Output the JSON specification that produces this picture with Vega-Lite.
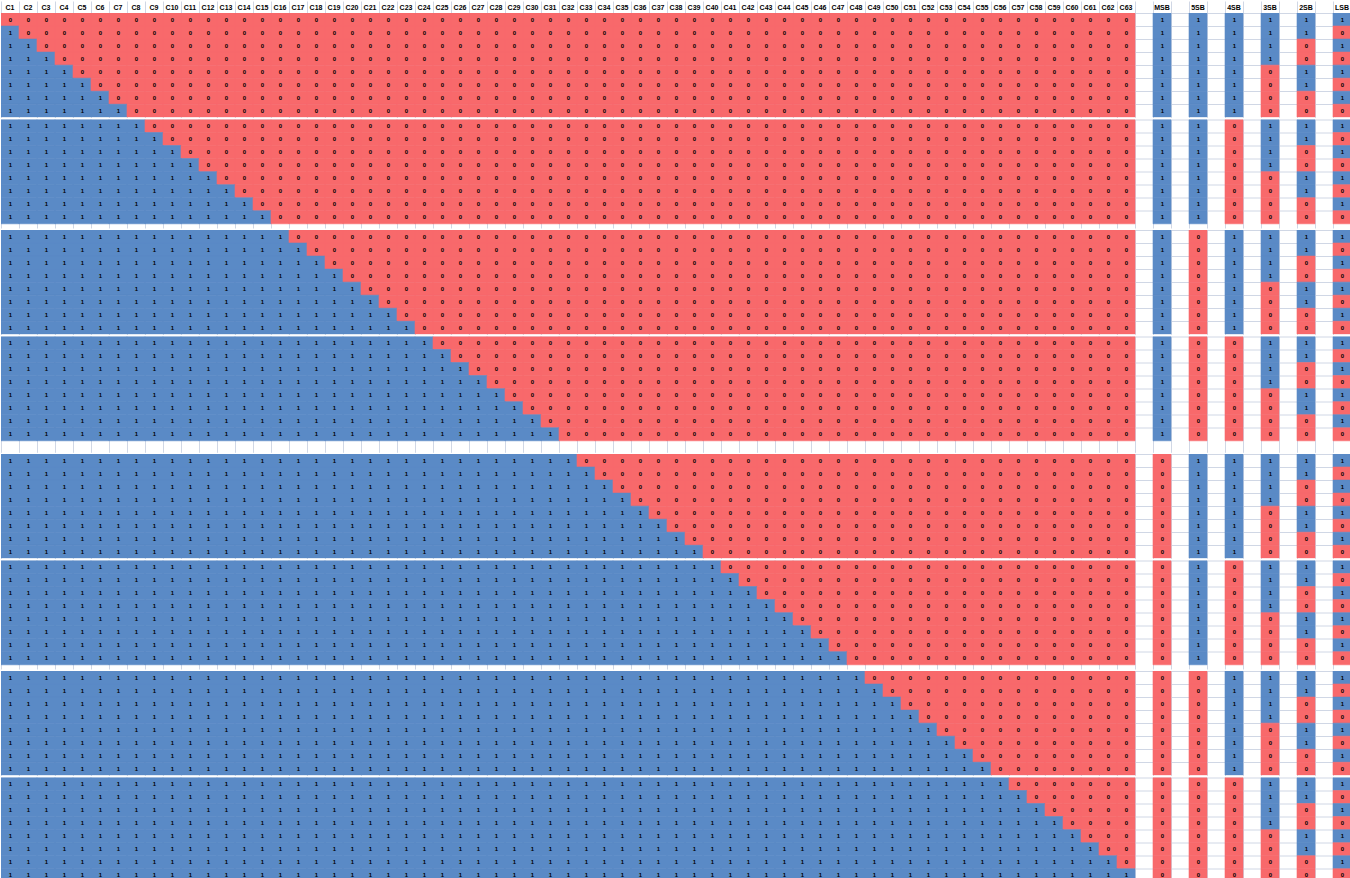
{
"$schema": "https://vega.github.io/schema/vega-lite/v6.json",
"padding": 0,
"background": "white",
"spacing": 1.5,
"config": {"view": {"stroke": null}, "axis": {"zindex": 0}},
"data": {"values": [
{"r":0,"b":[0,0,0,0,0,0,0,0, 0,0,0,0,0,0,0,0, 0,0,0,0,0,0,0,0, 0,0,0,0,0,0,0,0, 0,0,0,0,0,0,0,0, 0,0,0,0,0,0,0,0, 0,0,0,0,0,0,0,0, 0,0,0,0,0,0,0, 1,1,1,1,1,1]},
{"r":1,"b":[1,0,0,0,0,0,0,0, 0,0,0,0,0,0,0,0, 0,0,0,0,0,0,0,0, 0,0,0,0,0,0,0,0, 0,0,0,0,0,0,0,0, 0,0,0,0,0,0,0,0, 0,0,0,0,0,0,0,0, 0,0,0,0,0,0,0, 1,1,1,1,1,0]},
{"r":2,"b":[1,1,0,0,0,0,0,0, 0,0,0,0,0,0,0,0, 0,0,0,0,0,0,0,0, 0,0,0,0,0,0,0,0, 0,0,0,0,0,0,0,0, 0,0,0,0,0,0,0,0, 0,0,0,0,0,0,0,0, 0,0,0,0,0,0,0, 1,1,1,1,0,1]},
{"r":3,"b":[1,1,1,0,0,0,0,0, 0,0,0,0,0,0,0,0, 0,0,0,0,0,0,0,0, 0,0,0,0,0,0,0,0, 0,0,0,0,0,0,0,0, 0,0,0,0,0,0,0,0, 0,0,0,0,0,0,0,0, 0,0,0,0,0,0,0, 1,1,1,1,0,0]},
{"r":4,"b":[1,1,1,1,0,0,0,0, 0,0,0,0,0,0,0,0, 0,0,0,0,0,0,0,0, 0,0,0,0,0,0,0,0, 0,0,0,0,0,0,0,0, 0,0,0,0,0,0,0,0, 0,0,0,0,0,0,0,0, 0,0,0,0,0,0,0, 1,1,1,0,1,1]},
{"r":5,"b":[1,1,1,1,1,0,0,0, 0,0,0,0,0,0,0,0, 0,0,0,0,0,0,0,0, 0,0,0,0,0,0,0,0, 0,0,0,0,0,0,0,0, 0,0,0,0,0,0,0,0, 0,0,0,0,0,0,0,0, 0,0,0,0,0,0,0, 1,1,1,0,1,0]},
{"r":6,"b":[1,1,1,1,1,1,0,0, 0,0,0,0,0,0,0,0, 0,0,0,0,0,0,0,0, 0,0,0,0,0,0,0,0, 0,0,0,0,0,0,0,0, 0,0,0,0,0,0,0,0, 0,0,0,0,0,0,0,0, 0,0,0,0,0,0,0, 1,1,1,0,0,1]},
{"r":7,"b":[1,1,1,1,1,1,1,0, 0,0,0,0,0,0,0,0, 0,0,0,0,0,0,0,0, 0,0,0,0,0,0,0,0, 0,0,0,0,0,0,0,0, 0,0,0,0,0,0,0,0, 0,0,0,0,0,0,0,0, 0,0,0,0,0,0,0, 1,1,1,0,0,0]},
{"r":8,"b":[1,1,1,1,1,1,1,1, 0,0,0,0,0,0,0,0, 0,0,0,0,0,0,0,0, 0,0,0,0,0,0,0,0, 0,0,0,0,0,0,0,0, 0,0,0,0,0,0,0,0, 0,0,0,0,0,0,0,0, 0,0,0,0,0,0,0, 1,1,0,1,1,1]},
{"r":9,"b":[1,1,1,1,1,1,1,1, 1,0,0,0,0,0,0,0, 0,0,0,0,0,0,0,0, 0,0,0,0,0,0,0,0, 0,0,0,0,0,0,0,0, 0,0,0,0,0,0,0,0, 0,0,0,0,0,0,0,0, 0,0,0,0,0,0,0, 1,1,0,1,1,0]},
{"r":10,"b":[1,1,1,1,1,1,1,1, 1,1,0,0,0,0,0,0, 0,0,0,0,0,0,0,0, 0,0,0,0,0,0,0,0, 0,0,0,0,0,0,0,0, 0,0,0,0,0,0,0,0, 0,0,0,0,0,0,0,0, 0,0,0,0,0,0,0, 1,1,0,1,0,1]},
{"r":11,"b":[1,1,1,1,1,1,1,1, 1,1,1,0,0,0,0,0, 0,0,0,0,0,0,0,0, 0,0,0,0,0,0,0,0, 0,0,0,0,0,0,0,0, 0,0,0,0,0,0,0,0, 0,0,0,0,0,0,0,0, 0,0,0,0,0,0,0, 1,1,0,1,0,0]},
{"r":12,"b":[1,1,1,1,1,1,1,1, 1,1,1,1,0,0,0,0, 0,0,0,0,0,0,0,0, 0,0,0,0,0,0,0,0, 0,0,0,0,0,0,0,0, 0,0,0,0,0,0,0,0, 0,0,0,0,0,0,0,0, 0,0,0,0,0,0,0, 1,1,0,0,1,1]},
{"r":13,"b":[1,1,1,1,1,1,1,1, 1,1,1,1,1,0,0,0, 0,0,0,0,0,0,0,0, 0,0,0,0,0,0,0,0, 0,0,0,0,0,0,0,0, 0,0,0,0,0,0,0,0, 0,0,0,0,0,0,0,0, 0,0,0,0,0,0,0, 1,1,0,0,1,0]},
{"r":14,"b":[1,1,1,1,1,1,1,1, 1,1,1,1,1,1,0,0, 0,0,0,0,0,0,0,0, 0,0,0,0,0,0,0,0, 0,0,0,0,0,0,0,0, 0,0,0,0,0,0,0,0, 0,0,0,0,0,0,0,0, 0,0,0,0,0,0,0, 1,1,0,0,0,1]},
{"r":15,"b":[1,1,1,1,1,1,1,1, 1,1,1,1,1,1,1,0, 0,0,0,0,0,0,0,0, 0,0,0,0,0,0,0,0, 0,0,0,0,0,0,0,0, 0,0,0,0,0,0,0,0, 0,0,0,0,0,0,0,0, 0,0,0,0,0,0,0, 1,1,0,0,0,0]},
{"r":16,"b":[1,1,1,1,1,1,1,1, 1,1,1,1,1,1,1,1, 0,0,0,0,0,0,0,0, 0,0,0,0,0,0,0,0, 0,0,0,0,0,0,0,0, 0,0,0,0,0,0,0,0, 0,0,0,0,0,0,0,0, 0,0,0,0,0,0,0, 1,0,1,1,1,1]},
{"r":17,"b":[1,1,1,1,1,1,1,1, 1,1,1,1,1,1,1,1, 1,0,0,0,0,0,0,0, 0,0,0,0,0,0,0,0, 0,0,0,0,0,0,0,0, 0,0,0,0,0,0,0,0, 0,0,0,0,0,0,0,0, 0,0,0,0,0,0,0, 1,0,1,1,1,0]},
{"r":18,"b":[1,1,1,1,1,1,1,1, 1,1,1,1,1,1,1,1, 1,1,0,0,0,0,0,0, 0,0,0,0,0,0,0,0, 0,0,0,0,0,0,0,0, 0,0,0,0,0,0,0,0, 0,0,0,0,0,0,0,0, 0,0,0,0,0,0,0, 1,0,1,1,0,1]},
{"r":19,"b":[1,1,1,1,1,1,1,1, 1,1,1,1,1,1,1,1, 1,1,1,0,0,0,0,0, 0,0,0,0,0,0,0,0, 0,0,0,0,0,0,0,0, 0,0,0,0,0,0,0,0, 0,0,0,0,0,0,0,0, 0,0,0,0,0,0,0, 1,0,1,1,0,0]},
{"r":20,"b":[1,1,1,1,1,1,1,1, 1,1,1,1,1,1,1,1, 1,1,1,1,0,0,0,0, 0,0,0,0,0,0,0,0, 0,0,0,0,0,0,0,0, 0,0,0,0,0,0,0,0, 0,0,0,0,0,0,0,0, 0,0,0,0,0,0,0, 1,0,1,0,1,1]},
{"r":21,"b":[1,1,1,1,1,1,1,1, 1,1,1,1,1,1,1,1, 1,1,1,1,1,0,0,0, 0,0,0,0,0,0,0,0, 0,0,0,0,0,0,0,0, 0,0,0,0,0,0,0,0, 0,0,0,0,0,0,0,0, 0,0,0,0,0,0,0, 1,0,1,0,1,0]},
{"r":22,"b":[1,1,1,1,1,1,1,1, 1,1,1,1,1,1,1,1, 1,1,1,1,1,1,0,0, 0,0,0,0,0,0,0,0, 0,0,0,0,0,0,0,0, 0,0,0,0,0,0,0,0, 0,0,0,0,0,0,0,0, 0,0,0,0,0,0,0, 1,0,1,0,0,1]},
{"r":23,"b":[1,1,1,1,1,1,1,1, 1,1,1,1,1,1,1,1, 1,1,1,1,1,1,1,0, 0,0,0,0,0,0,0,0, 0,0,0,0,0,0,0,0, 0,0,0,0,0,0,0,0, 0,0,0,0,0,0,0,0, 0,0,0,0,0,0,0, 1,0,1,0,0,0]},
{"r":24,"b":[1,1,1,1,1,1,1,1, 1,1,1,1,1,1,1,1, 1,1,1,1,1,1,1,1, 0,0,0,0,0,0,0,0, 0,0,0,0,0,0,0,0, 0,0,0,0,0,0,0,0, 0,0,0,0,0,0,0,0, 0,0,0,0,0,0,0, 1,0,0,1,1,1]},
{"r":25,"b":[1,1,1,1,1,1,1,1, 1,1,1,1,1,1,1,1, 1,1,1,1,1,1,1,1, 1,0,0,0,0,0,0,0, 0,0,0,0,0,0,0,0, 0,0,0,0,0,0,0,0, 0,0,0,0,0,0,0,0, 0,0,0,0,0,0,0, 1,0,0,1,1,0]},
{"r":26,"b":[1,1,1,1,1,1,1,1, 1,1,1,1,1,1,1,1, 1,1,1,1,1,1,1,1, 1,1,0,0,0,0,0,0, 0,0,0,0,0,0,0,0, 0,0,0,0,0,0,0,0, 0,0,0,0,0,0,0,0, 0,0,0,0,0,0,0, 1,0,0,1,0,1]},
{"r":27,"b":[1,1,1,1,1,1,1,1, 1,1,1,1,1,1,1,1, 1,1,1,1,1,1,1,1, 1,1,1,0,0,0,0,0, 0,0,0,0,0,0,0,0, 0,0,0,0,0,0,0,0, 0,0,0,0,0,0,0,0, 0,0,0,0,0,0,0, 1,0,0,1,0,0]},
{"r":28,"b":[1,1,1,1,1,1,1,1, 1,1,1,1,1,1,1,1, 1,1,1,1,1,1,1,1, 1,1,1,1,0,0,0,0, 0,0,0,0,0,0,0,0, 0,0,0,0,0,0,0,0, 0,0,0,0,0,0,0,0, 0,0,0,0,0,0,0, 1,0,0,0,1,1]},
{"r":29,"b":[1,1,1,1,1,1,1,1, 1,1,1,1,1,1,1,1, 1,1,1,1,1,1,1,1, 1,1,1,1,1,0,0,0, 0,0,0,0,0,0,0,0, 0,0,0,0,0,0,0,0, 0,0,0,0,0,0,0,0, 0,0,0,0,0,0,0, 1,0,0,0,1,0]},
{"r":30,"b":[1,1,1,1,1,1,1,1, 1,1,1,1,1,1,1,1, 1,1,1,1,1,1,1,1, 1,1,1,1,1,1,0,0, 0,0,0,0,0,0,0,0, 0,0,0,0,0,0,0,0, 0,0,0,0,0,0,0,0, 0,0,0,0,0,0,0, 1,0,0,0,0,1]},
{"r":31,"b":[1,1,1,1,1,1,1,1, 1,1,1,1,1,1,1,1, 1,1,1,1,1,1,1,1, 1,1,1,1,1,1,1,0, 0,0,0,0,0,0,0,0, 0,0,0,0,0,0,0,0, 0,0,0,0,0,0,0,0, 0,0,0,0,0,0,0, 1,0,0,0,0,0]},
{"r":32,"b":[1,1,1,1,1,1,1,1, 1,1,1,1,1,1,1,1, 1,1,1,1,1,1,1,1, 1,1,1,1,1,1,1,1, 0,0,0,0,0,0,0,0, 0,0,0,0,0,0,0,0, 0,0,0,0,0,0,0,0, 0,0,0,0,0,0,0, 0,1,1,1,1,1]},
{"r":33,"b":[1,1,1,1,1,1,1,1, 1,1,1,1,1,1,1,1, 1,1,1,1,1,1,1,1, 1,1,1,1,1,1,1,1, 1,0,0,0,0,0,0,0, 0,0,0,0,0,0,0,0, 0,0,0,0,0,0,0,0, 0,0,0,0,0,0,0, 0,1,1,1,1,0]},
{"r":34,"b":[1,1,1,1,1,1,1,1, 1,1,1,1,1,1,1,1, 1,1,1,1,1,1,1,1, 1,1,1,1,1,1,1,1, 1,1,0,0,0,0,0,0, 0,0,0,0,0,0,0,0, 0,0,0,0,0,0,0,0, 0,0,0,0,0,0,0, 0,1,1,1,0,1]},
{"r":35,"b":[1,1,1,1,1,1,1,1, 1,1,1,1,1,1,1,1, 1,1,1,1,1,1,1,1, 1,1,1,1,1,1,1,1, 1,1,1,0,0,0,0,0, 0,0,0,0,0,0,0,0, 0,0,0,0,0,0,0,0, 0,0,0,0,0,0,0, 0,1,1,1,0,0]},
{"r":36,"b":[1,1,1,1,1,1,1,1, 1,1,1,1,1,1,1,1, 1,1,1,1,1,1,1,1, 1,1,1,1,1,1,1,1, 1,1,1,1,0,0,0,0, 0,0,0,0,0,0,0,0, 0,0,0,0,0,0,0,0, 0,0,0,0,0,0,0, 0,1,1,0,1,1]},
{"r":37,"b":[1,1,1,1,1,1,1,1, 1,1,1,1,1,1,1,1, 1,1,1,1,1,1,1,1, 1,1,1,1,1,1,1,1, 1,1,1,1,1,0,0,0, 0,0,0,0,0,0,0,0, 0,0,0,0,0,0,0,0, 0,0,0,0,0,0,0, 0,1,1,0,1,0]},
{"r":38,"b":[1,1,1,1,1,1,1,1, 1,1,1,1,1,1,1,1, 1,1,1,1,1,1,1,1, 1,1,1,1,1,1,1,1, 1,1,1,1,1,1,0,0, 0,0,0,0,0,0,0,0, 0,0,0,0,0,0,0,0, 0,0,0,0,0,0,0, 0,1,1,0,0,1]},
{"r":39,"b":[1,1,1,1,1,1,1,1, 1,1,1,1,1,1,1,1, 1,1,1,1,1,1,1,1, 1,1,1,1,1,1,1,1, 1,1,1,1,1,1,1,0, 0,0,0,0,0,0,0,0, 0,0,0,0,0,0,0,0, 0,0,0,0,0,0,0, 0,1,1,0,0,0]},
{"r":40,"b":[1,1,1,1,1,1,1,1, 1,1,1,1,1,1,1,1, 1,1,1,1,1,1,1,1, 1,1,1,1,1,1,1,1, 1,1,1,1,1,1,1,1, 0,0,0,0,0,0,0,0, 0,0,0,0,0,0,0,0, 0,0,0,0,0,0,0, 0,1,0,1,1,1]},
{"r":41,"b":[1,1,1,1,1,1,1,1, 1,1,1,1,1,1,1,1, 1,1,1,1,1,1,1,1, 1,1,1,1,1,1,1,1, 1,1,1,1,1,1,1,1, 1,0,0,0,0,0,0,0, 0,0,0,0,0,0,0,0, 0,0,0,0,0,0,0, 0,1,0,1,1,0]},
{"r":42,"b":[1,1,1,1,1,1,1,1, 1,1,1,1,1,1,1,1, 1,1,1,1,1,1,1,1, 1,1,1,1,1,1,1,1, 1,1,1,1,1,1,1,1, 1,1,0,0,0,0,0,0, 0,0,0,0,0,0,0,0, 0,0,0,0,0,0,0, 0,1,0,1,0,1]},
{"r":43,"b":[1,1,1,1,1,1,1,1, 1,1,1,1,1,1,1,1, 1,1,1,1,1,1,1,1, 1,1,1,1,1,1,1,1, 1,1,1,1,1,1,1,1, 1,1,1,0,0,0,0,0, 0,0,0,0,0,0,0,0, 0,0,0,0,0,0,0, 0,1,0,1,0,0]},
{"r":44,"b":[1,1,1,1,1,1,1,1, 1,1,1,1,1,1,1,1, 1,1,1,1,1,1,1,1, 1,1,1,1,1,1,1,1, 1,1,1,1,1,1,1,1, 1,1,1,1,0,0,0,0, 0,0,0,0,0,0,0,0, 0,0,0,0,0,0,0, 0,1,0,0,1,1]},
{"r":45,"b":[1,1,1,1,1,1,1,1, 1,1,1,1,1,1,1,1, 1,1,1,1,1,1,1,1, 1,1,1,1,1,1,1,1, 1,1,1,1,1,1,1,1, 1,1,1,1,1,0,0,0, 0,0,0,0,0,0,0,0, 0,0,0,0,0,0,0, 0,1,0,0,1,0]},
{"r":46,"b":[1,1,1,1,1,1,1,1, 1,1,1,1,1,1,1,1, 1,1,1,1,1,1,1,1, 1,1,1,1,1,1,1,1, 1,1,1,1,1,1,1,1, 1,1,1,1,1,1,0,0, 0,0,0,0,0,0,0,0, 0,0,0,0,0,0,0, 0,1,0,0,0,1]},
{"r":47,"b":[1,1,1,1,1,1,1,1, 1,1,1,1,1,1,1,1, 1,1,1,1,1,1,1,1, 1,1,1,1,1,1,1,1, 1,1,1,1,1,1,1,1, 1,1,1,1,1,1,1,0, 0,0,0,0,0,0,0,0, 0,0,0,0,0,0,0, 0,1,0,0,0,0]},
{"r":48,"b":[1,1,1,1,1,1,1,1, 1,1,1,1,1,1,1,1, 1,1,1,1,1,1,1,1, 1,1,1,1,1,1,1,1, 1,1,1,1,1,1,1,1, 1,1,1,1,1,1,1,1, 0,0,0,0,0,0,0,0, 0,0,0,0,0,0,0, 0,0,1,1,1,1]},
{"r":49,"b":[1,1,1,1,1,1,1,1, 1,1,1,1,1,1,1,1, 1,1,1,1,1,1,1,1, 1,1,1,1,1,1,1,1, 1,1,1,1,1,1,1,1, 1,1,1,1,1,1,1,1, 1,0,0,0,0,0,0,0, 0,0,0,0,0,0,0, 0,0,1,1,1,0]},
{"r":50,"b":[1,1,1,1,1,1,1,1, 1,1,1,1,1,1,1,1, 1,1,1,1,1,1,1,1, 1,1,1,1,1,1,1,1, 1,1,1,1,1,1,1,1, 1,1,1,1,1,1,1,1, 1,1,0,0,0,0,0,0, 0,0,0,0,0,0,0, 0,0,1,1,0,1]},
{"r":51,"b":[1,1,1,1,1,1,1,1, 1,1,1,1,1,1,1,1, 1,1,1,1,1,1,1,1, 1,1,1,1,1,1,1,1, 1,1,1,1,1,1,1,1, 1,1,1,1,1,1,1,1, 1,1,1,0,0,0,0,0, 0,0,0,0,0,0,0, 0,0,1,1,0,0]},
{"r":52,"b":[1,1,1,1,1,1,1,1, 1,1,1,1,1,1,1,1, 1,1,1,1,1,1,1,1, 1,1,1,1,1,1,1,1, 1,1,1,1,1,1,1,1, 1,1,1,1,1,1,1,1, 1,1,1,1,0,0,0,0, 0,0,0,0,0,0,0, 0,0,1,0,1,1]},
{"r":53,"b":[1,1,1,1,1,1,1,1, 1,1,1,1,1,1,1,1, 1,1,1,1,1,1,1,1, 1,1,1,1,1,1,1,1, 1,1,1,1,1,1,1,1, 1,1,1,1,1,1,1,1, 1,1,1,1,1,0,0,0, 0,0,0,0,0,0,0, 0,0,1,0,1,0]},
{"r":54,"b":[1,1,1,1,1,1,1,1, 1,1,1,1,1,1,1,1, 1,1,1,1,1,1,1,1, 1,1,1,1,1,1,1,1, 1,1,1,1,1,1,1,1, 1,1,1,1,1,1,1,1, 1,1,1,1,1,1,0,0, 0,0,0,0,0,0,0, 0,0,1,0,0,1]},
{"r":55,"b":[1,1,1,1,1,1,1,1, 1,1,1,1,1,1,1,1, 1,1,1,1,1,1,1,1, 1,1,1,1,1,1,1,1, 1,1,1,1,1,1,1,1, 1,1,1,1,1,1,1,1, 1,1,1,1,1,1,1,0, 0,0,0,0,0,0,0, 0,0,1,0,0,0]},
{"r":56,"b":[1,1,1,1,1,1,1,1, 1,1,1,1,1,1,1,1, 1,1,1,1,1,1,1,1, 1,1,1,1,1,1,1,1, 1,1,1,1,1,1,1,1, 1,1,1,1,1,1,1,1, 1,1,1,1,1,1,1,1, 0,0,0,0,0,0,0, 0,0,0,1,1,1]},
{"r":57,"b":[1,1,1,1,1,1,1,1, 1,1,1,1,1,1,1,1, 1,1,1,1,1,1,1,1, 1,1,1,1,1,1,1,1, 1,1,1,1,1,1,1,1, 1,1,1,1,1,1,1,1, 1,1,1,1,1,1,1,1, 1,0,0,0,0,0,0, 0,0,0,1,1,0]},
{"r":58,"b":[1,1,1,1,1,1,1,1, 1,1,1,1,1,1,1,1, 1,1,1,1,1,1,1,1, 1,1,1,1,1,1,1,1, 1,1,1,1,1,1,1,1, 1,1,1,1,1,1,1,1, 1,1,1,1,1,1,1,1, 1,1,0,0,0,0,0, 0,0,0,1,0,1]},
{"r":59,"b":[1,1,1,1,1,1,1,1, 1,1,1,1,1,1,1,1, 1,1,1,1,1,1,1,1, 1,1,1,1,1,1,1,1, 1,1,1,1,1,1,1,1, 1,1,1,1,1,1,1,1, 1,1,1,1,1,1,1,1, 1,1,1,0,0,0,0, 0,0,0,1,0,0]},
{"r":60,"b":[1,1,1,1,1,1,1,1, 1,1,1,1,1,1,1,1, 1,1,1,1,1,1,1,1, 1,1,1,1,1,1,1,1, 1,1,1,1,1,1,1,1, 1,1,1,1,1,1,1,1, 1,1,1,1,1,1,1,1, 1,1,1,1,0,0,0, 0,0,0,0,1,1]},
{"r":61,"b":[1,1,1,1,1,1,1,1, 1,1,1,1,1,1,1,1, 1,1,1,1,1,1,1,1, 1,1,1,1,1,1,1,1, 1,1,1,1,1,1,1,1, 1,1,1,1,1,1,1,1, 1,1,1,1,1,1,1,1, 1,1,1,1,1,0,0, 0,0,0,0,1,0]},
{"r":62,"b":[1,1,1,1,1,1,1,1, 1,1,1,1,1,1,1,1, 1,1,1,1,1,1,1,1, 1,1,1,1,1,1,1,1, 1,1,1,1,1,1,1,1, 1,1,1,1,1,1,1,1, 1,1,1,1,1,1,1,1, 1,1,1,1,1,1,0, 0,0,0,0,0,1]},
{"r":63,"b":[1,1,1,1,1,1,1,1, 1,1,1,1,1,1,1,1, 1,1,1,1,1,1,1,1, 1,1,1,1,1,1,1,1, 1,1,1,1,1,1,1,1, 1,1,1,1,1,1,1,1, 1,1,1,1,1,1,1,1, 1,1,1,1,1,1,1, 0,0,0,0,0,0]}
]},
"transform": [
  {"flatten": ["b"], "as": ["v"]},
  {"window": [{"op": "row_number", "as": "k"}], "groupby": ["r"]}
],
"resolve": {"scale": {"x": "independent", "y": "independent"}},
"vconcat": [
{"width": 1350, "height": 104.3,
 "transform": [{"filter": "datum.r >= 0 && datum.r <= 7"}],
 "encoding": {
  "x": {"field": "k", "type": "ordinal", "scale": {"domain": [1,2,3,4,5,6,7,8,9,10,11,12,13,14,15,16,17,18,19,20,21,22,23,24,25,26,27,28,29,30,31,32,33,34,35,36,37,38,39,40,41,42,43,44,45,46,47,48,49,50,51,52,53,54,55,56,57,58,59,60,61,62,63,101,64,102,65,103,66,104,67,105,68,106,69], "paddingInner": 0, "paddingOuter": 0},
   "axis": {"orient": "top", "zindex": 0, "title": null, "bandPosition": 0, "labelOffset": 0, "tickSize": 12, "tickColor": "#d0d7e5", "domain": false, "grid": true, "gridColor": "#d0d7e5", "labelFont": "Liberation Sans", "labelFontSize": 7, "labelFontWeight": "bold", "labelColor": "black", "labelPadding": -9.5, "labelAngle": 0, "labelOverlap": false, "labelBound": false, "labelFlush": false, "minExtent": 12, "maxExtent": 12,
    "labelExpr": "datum.value > 100 ? '' : datum.value <= 63 ? 'C' + datum.value : datum.value == 64 ? 'MSB' : datum.value == 65 ? '5SB' : datum.value == 66 ? '4SB' : datum.value == 67 ? '3SB' : datum.value == 68 ? '2SB' : 'LSB'"}},
  "y": {"field": "r", "type": "ordinal", "scale": {"domain": [0,1,2,3,4,5,6,7], "paddingInner": 0, "paddingOuter": 0},
   "axis": {"zindex": 0, "title": null, "labels": false, "ticks": false, "domain": false, "grid": true, "gridColor": "#d0d7e5", "bandPosition": 0, "minExtent": 0, "maxExtent": 0}}
 },
 "layer": [
  {"mark": {"type": "rect", "strokeWidth": 0.6, "clip": true}, "encoding": {"color": {"field": "v", "type": "nominal", "scale": {"domain": [0,1], "range": ["#F8696B","#5A8AC6"]}, "legend": null}, "stroke": {"field": "v", "type": "nominal", "scale": {"domain": [0,1], "range": ["#F8696B","#5A8AC6"]}, "legend": null}}},
  {"mark": {"type": "text", "font": "Liberation Sans", "fontSize": 6, "fontWeight": "bold", "color": "black", "dx": 0.5}, "encoding": {"text": {"field": "v"}}}
 ]},
{"width": 1350, "height": 108.5,
 "transform": [{"filter": "datum.r >= 8 && datum.r <= 15"}],
 "encoding": {
  "x": {"field": "k", "type": "ordinal", "scale": {"domain": [1,2,3,4,5,6,7,8,9,10,11,12,13,14,15,16,17,18,19,20,21,22,23,24,25,26,27,28,29,30,31,32,33,34,35,36,37,38,39,40,41,42,43,44,45,46,47,48,49,50,51,52,53,54,55,56,57,58,59,60,61,62,63,101,64,102,65,103,66,104,67,105,68,106,69], "paddingInner": 0, "paddingOuter": 0},
   "axis": {"orient": "top", "zindex": 0, "title": null, "labels": false, "ticks": false, "domain": false, "grid": true, "gridColor": "#d0d7e5", "bandPosition": 0, "minExtent": 0, "maxExtent": 0}},
  "y": {"field": "r", "type": "ordinal", "scale": {"domain": [8,9,10,11,12,13,14,15], "paddingInner": 0, "paddingOuter": 0.161, "align": 0},
   "axis": {"zindex": 0, "title": null, "labels": false, "ticks": false, "domain": false, "grid": true, "gridColor": "#d0d7e5", "bandPosition": 0, "minExtent": 0, "maxExtent": 0}}
 },
 "layer": [
  {"mark": {"type": "rect", "strokeWidth": 0.6, "clip": true}, "encoding": {"color": {"field": "v", "type": "nominal", "scale": {"domain": [0,1], "range": ["#F8696B","#5A8AC6"]}, "legend": null}, "stroke": {"field": "v", "type": "nominal", "scale": {"domain": [0,1], "range": ["#F8696B","#5A8AC6"]}, "legend": null}}},
  {"mark": {"type": "text", "font": "Liberation Sans", "fontSize": 6, "fontWeight": "bold", "color": "black", "dx": 0.5}, "encoding": {"text": {"field": "v"}}}
 ]},
{"width": 1350, "height": 104.3,
 "transform": [{"filter": "datum.r >= 16 && datum.r <= 23"}],
 "encoding": {
  "x": {"field": "k", "type": "ordinal", "scale": {"domain": [1,2,3,4,5,6,7,8,9,10,11,12,13,14,15,16,17,18,19,20,21,22,23,24,25,26,27,28,29,30,31,32,33,34,35,36,37,38,39,40,41,42,43,44,45,46,47,48,49,50,51,52,53,54,55,56,57,58,59,60,61,62,63,101,64,102,65,103,66,104,67,105,68,106,69], "paddingInner": 0, "paddingOuter": 0},
   "axis": {"orient": "top", "zindex": 0, "title": null, "labels": false, "ticks": false, "domain": false, "grid": true, "gridColor": "#d0d7e5", "bandPosition": 0, "minExtent": 0, "maxExtent": 0}},
  "y": {"field": "r", "type": "ordinal", "scale": {"domain": [16,17,18,19,20,21,22,23], "paddingInner": 0, "paddingOuter": 0},
   "axis": {"zindex": 0, "title": null, "labels": false, "ticks": false, "domain": false, "grid": true, "gridColor": "#d0d7e5", "bandPosition": 0, "minExtent": 0, "maxExtent": 0}}
 },
 "layer": [
  {"mark": {"type": "rect", "strokeWidth": 0.6, "clip": true}, "encoding": {"color": {"field": "v", "type": "nominal", "scale": {"domain": [0,1], "range": ["#F8696B","#5A8AC6"]}, "legend": null}, "stroke": {"field": "v", "type": "nominal", "scale": {"domain": [0,1], "range": ["#F8696B","#5A8AC6"]}, "legend": null}}},
  {"mark": {"type": "text", "font": "Liberation Sans", "fontSize": 6, "fontWeight": "bold", "color": "black", "dx": 0.5}, "encoding": {"text": {"field": "v"}}}
 ]},
{"width": 1350, "height": 115.8,
 "transform": [{"filter": "datum.r >= 24 && datum.r <= 31"}],
 "encoding": {
  "x": {"field": "k", "type": "ordinal", "scale": {"domain": [1,2,3,4,5,6,7,8,9,10,11,12,13,14,15,16,17,18,19,20,21,22,23,24,25,26,27,28,29,30,31,32,33,34,35,36,37,38,39,40,41,42,43,44,45,46,47,48,49,50,51,52,53,54,55,56,57,58,59,60,61,62,63,101,64,102,65,103,66,104,67,105,68,106,69], "paddingInner": 0, "paddingOuter": 0},
   "axis": {"orient": "top", "zindex": 0, "title": null, "labels": false, "ticks": false, "domain": false, "grid": true, "gridColor": "#d0d7e5", "bandPosition": 0, "minExtent": 0, "maxExtent": 0}},
  "y": {"field": "r", "type": "ordinal", "scale": {"domain": [24,25,26,27,28,29,30,31], "paddingInner": 0, "paddingOuter": 0.441, "align": 0},
   "axis": {"zindex": 0, "title": null, "labels": false, "ticks": false, "domain": false, "grid": true, "gridColor": "#d0d7e5", "bandPosition": 0, "minExtent": 0, "maxExtent": 0}}
 },
 "layer": [
  {"mark": {"type": "rect", "strokeWidth": 0.6, "clip": true}, "encoding": {"color": {"field": "v", "type": "nominal", "scale": {"domain": [0,1], "range": ["#F8696B","#5A8AC6"]}, "legend": null}, "stroke": {"field": "v", "type": "nominal", "scale": {"domain": [0,1], "range": ["#F8696B","#5A8AC6"]}, "legend": null}}},
  {"mark": {"type": "text", "font": "Liberation Sans", "fontSize": 6, "fontWeight": "bold", "color": "black", "dx": 0.5}, "encoding": {"text": {"field": "v"}}}
 ]},
{"width": 1350, "height": 104.3,
 "transform": [{"filter": "datum.r >= 32 && datum.r <= 39"}],
 "encoding": {
  "x": {"field": "k", "type": "ordinal", "scale": {"domain": [1,2,3,4,5,6,7,8,9,10,11,12,13,14,15,16,17,18,19,20,21,22,23,24,25,26,27,28,29,30,31,32,33,34,35,36,37,38,39,40,41,42,43,44,45,46,47,48,49,50,51,52,53,54,55,56,57,58,59,60,61,62,63,101,64,102,65,103,66,104,67,105,68,106,69], "paddingInner": 0, "paddingOuter": 0},
   "axis": {"orient": "top", "zindex": 0, "title": null, "labels": false, "ticks": false, "domain": false, "grid": true, "gridColor": "#d0d7e5", "bandPosition": 0, "minExtent": 0, "maxExtent": 0}},
  "y": {"field": "r", "type": "ordinal", "scale": {"domain": [32,33,34,35,36,37,38,39], "paddingInner": 0, "paddingOuter": 0},
   "axis": {"zindex": 0, "title": null, "labels": false, "ticks": false, "domain": false, "grid": true, "gridColor": "#d0d7e5", "bandPosition": 0, "minExtent": 0, "maxExtent": 0}}
 },
 "layer": [
  {"mark": {"type": "rect", "strokeWidth": 0.6, "clip": true}, "encoding": {"color": {"field": "v", "type": "nominal", "scale": {"domain": [0,1], "range": ["#F8696B","#5A8AC6"]}, "legend": null}, "stroke": {"field": "v", "type": "nominal", "scale": {"domain": [0,1], "range": ["#F8696B","#5A8AC6"]}, "legend": null}}},
  {"mark": {"type": "text", "font": "Liberation Sans", "fontSize": 6, "fontWeight": "bold", "color": "black", "dx": 0.5}, "encoding": {"text": {"field": "v"}}}
 ]},
{"width": 1350, "height": 108.5,
 "transform": [{"filter": "datum.r >= 40 && datum.r <= 47"}],
 "encoding": {
  "x": {"field": "k", "type": "ordinal", "scale": {"domain": [1,2,3,4,5,6,7,8,9,10,11,12,13,14,15,16,17,18,19,20,21,22,23,24,25,26,27,28,29,30,31,32,33,34,35,36,37,38,39,40,41,42,43,44,45,46,47,48,49,50,51,52,53,54,55,56,57,58,59,60,61,62,63,101,64,102,65,103,66,104,67,105,68,106,69], "paddingInner": 0, "paddingOuter": 0},
   "axis": {"orient": "top", "zindex": 0, "title": null, "labels": false, "ticks": false, "domain": false, "grid": true, "gridColor": "#d0d7e5", "bandPosition": 0, "minExtent": 0, "maxExtent": 0}},
  "y": {"field": "r", "type": "ordinal", "scale": {"domain": [40,41,42,43,44,45,46,47], "paddingInner": 0, "paddingOuter": 0.161, "align": 0},
   "axis": {"zindex": 0, "title": null, "labels": false, "ticks": false, "domain": false, "grid": true, "gridColor": "#d0d7e5", "bandPosition": 0, "minExtent": 0, "maxExtent": 0}}
 },
 "layer": [
  {"mark": {"type": "rect", "strokeWidth": 0.6, "clip": true}, "encoding": {"color": {"field": "v", "type": "nominal", "scale": {"domain": [0,1], "range": ["#F8696B","#5A8AC6"]}, "legend": null}, "stroke": {"field": "v", "type": "nominal", "scale": {"domain": [0,1], "range": ["#F8696B","#5A8AC6"]}, "legend": null}}},
  {"mark": {"type": "text", "font": "Liberation Sans", "fontSize": 6, "fontWeight": "bold", "color": "black", "dx": 0.5}, "encoding": {"text": {"field": "v"}}}
 ]},
{"width": 1350, "height": 104.3,
 "transform": [{"filter": "datum.r >= 48 && datum.r <= 55"}],
 "encoding": {
  "x": {"field": "k", "type": "ordinal", "scale": {"domain": [1,2,3,4,5,6,7,8,9,10,11,12,13,14,15,16,17,18,19,20,21,22,23,24,25,26,27,28,29,30,31,32,33,34,35,36,37,38,39,40,41,42,43,44,45,46,47,48,49,50,51,52,53,54,55,56,57,58,59,60,61,62,63,101,64,102,65,103,66,104,67,105,68,106,69], "paddingInner": 0, "paddingOuter": 0},
   "axis": {"orient": "top", "zindex": 0, "title": null, "labels": false, "ticks": false, "domain": false, "grid": true, "gridColor": "#d0d7e5", "bandPosition": 0, "minExtent": 0, "maxExtent": 0}},
  "y": {"field": "r", "type": "ordinal", "scale": {"domain": [48,49,50,51,52,53,54,55], "paddingInner": 0, "paddingOuter": 0},
   "axis": {"zindex": 0, "title": null, "labels": false, "ticks": false, "domain": false, "grid": true, "gridColor": "#d0d7e5", "bandPosition": 0, "minExtent": 0, "maxExtent": 0}}
 },
 "layer": [
  {"mark": {"type": "rect", "strokeWidth": 0.6, "clip": true}, "encoding": {"color": {"field": "v", "type": "nominal", "scale": {"domain": [0,1], "range": ["#F8696B","#5A8AC6"]}, "legend": null}, "stroke": {"field": "v", "type": "nominal", "scale": {"domain": [0,1], "range": ["#F8696B","#5A8AC6"]}, "legend": null}}},
  {"mark": {"type": "text", "font": "Liberation Sans", "fontSize": 6, "fontWeight": "bold", "color": "black", "dx": 0.5}, "encoding": {"text": {"field": "v"}}}
 ]},
{"width": 1350, "height": 104.3,
 "transform": [{"filter": "datum.r >= 56 && datum.r <= 63"}],
 "encoding": {
  "x": {"field": "k", "type": "ordinal", "scale": {"domain": [1,2,3,4,5,6,7,8,9,10,11,12,13,14,15,16,17,18,19,20,21,22,23,24,25,26,27,28,29,30,31,32,33,34,35,36,37,38,39,40,41,42,43,44,45,46,47,48,49,50,51,52,53,54,55,56,57,58,59,60,61,62,63,101,64,102,65,103,66,104,67,105,68,106,69], "paddingInner": 0, "paddingOuter": 0},
   "axis": {"orient": "top", "zindex": 0, "title": null, "labels": false, "ticks": false, "domain": false, "grid": true, "gridColor": "#d0d7e5", "bandPosition": 0, "minExtent": 0, "maxExtent": 0}},
  "y": {"field": "r", "type": "ordinal", "scale": {"domain": [56,57,58,59,60,61,62,63], "paddingInner": 0, "paddingOuter": 0},
   "axis": {"zindex": 0, "title": null, "labels": false, "ticks": false, "domain": false, "grid": true, "gridColor": "#d0d7e5", "bandPosition": 0, "minExtent": 0, "maxExtent": 0}}
 },
 "layer": [
  {"mark": {"type": "rect", "strokeWidth": 0.6, "clip": true}, "encoding": {"color": {"field": "v", "type": "nominal", "scale": {"domain": [0,1], "range": ["#F8696B","#5A8AC6"]}, "legend": null}, "stroke": {"field": "v", "type": "nominal", "scale": {"domain": [0,1], "range": ["#F8696B","#5A8AC6"]}, "legend": null}}},
  {"mark": {"type": "text", "font": "Liberation Sans", "fontSize": 6, "fontWeight": "bold", "color": "black", "dx": 0.5}, "encoding": {"text": {"field": "v"}}}
 ]}
]
}
